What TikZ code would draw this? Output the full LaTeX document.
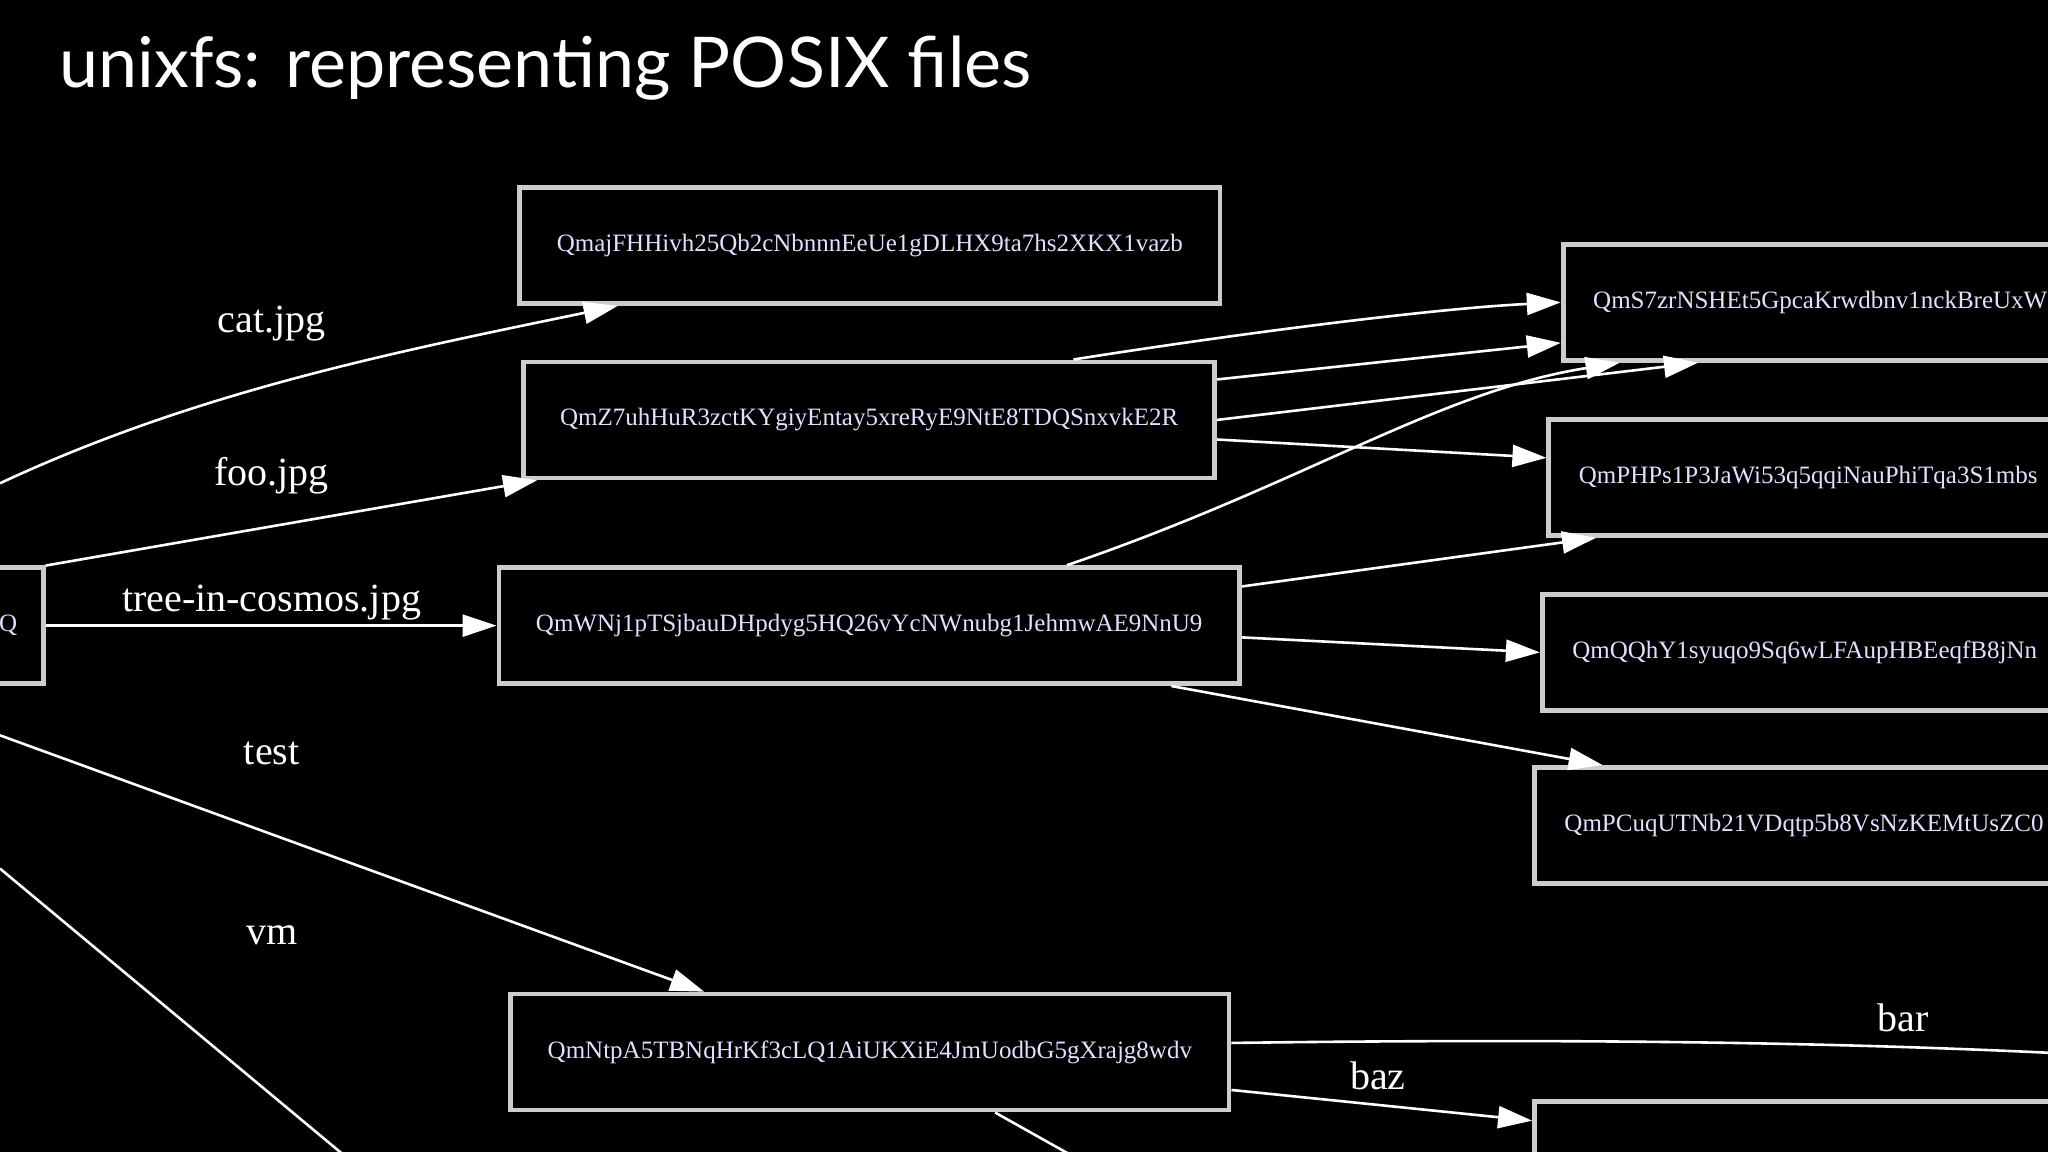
\documentclass[tikz,border=0pt]{standalone}
\usepackage{fontspec}
\setmainfont{Liberation Serif}
\newfontfamily\titlefont{Lato}
\usetikzlibrary{arrows.meta,positioning}
\tikzset{
hashbox/.style = {draw=white!80!black, line width=2.4pt, rectangle, text=white!88!blue,
  font=\fontsize{12.5}{14}\selectfont, minimum height=58pt, inner xsep=13pt},
sidebox/.style = {hashbox, anchor=west, minimum width=500pt, text width=470pt, align=left},
lbl/.style = {text=white, font=\fontsize{20}{22}\selectfont},
link/.style = {draw=white, line width=1.3pt, -{Triangle[width=11pt,length=17pt]}},
plain/.style = {draw=white, line width=1.3pt}
}
\begin{document}
\begin{tikzpicture}[x=0.6531pt, y=-0.6531pt]
  \fill[black] (0,0) rectangle (1568,882);
  \useasboundingbox (0,0) rectangle (1568,882);
  \clip (0,0) rectangle (1568,882);

  \node [text=white, font=\titlefont\fontsize{35}{40}\selectfont, anchor=west] (title) at (40,52) {unixfs: representing POSIX files};

  % middle column
  \node [hashbox, minimum width=536*0.6531pt] (cat)  at (666,188) {QmajFHHivh25Qb2cNbnnnEeUe1gDLHX9ta7hs2XKX1vazb};
  \node [hashbox, minimum width=529*0.6531pt] (foo)  at (665.5,321.5) {QmZ7uhHuR3zctKYgiyEntay5xreRyE9NtE8TDQSnxvkE2R};
  \node [hashbox, minimum width=567*0.6531pt] (tree) at (665.5,479) {QmWNj1pTSjbauDHpdyg5HQ26vYcNWnubg1JehmwAE9NnU9};
  \node [hashbox, minimum width=550*0.6531pt] (test) at (666,805.5) {QmNtpA5TBNqHrKf3cLQ1AiUKXiE4JmUodbG5gXrajg8wdv};
  \node [hashbox, anchor=east, minimum width=240*0.6531pt, text width=200*0.6531pt, align=right] (root) at (35,479) {rQ};

  % right column
  \node [sidebox] (blkA) at (1195,231.5) {QmS7zrNSHEt5GpcaKrwdbnv1nckBreUxW};
  \node [sidebox] (blkB) at (1184,365.5) {QmPHPs1P3JaWi53q5qqiNauPhiTqa3S1mbs};
  \node [sidebox] (blkC) at (1179,499.5) {QmQQhY1syuqo9Sq6wLFAupHBEeqfB8jNn};
  \node [sidebox] (blkD) at (1173,632) {QmPCuqUTNb21VDqtp5b8VsNzKEMtUsZC0};
  \node [sidebox] (blkE) at (1173,888) {};

  % free ends at the border
  \coordinate (catS) at (0,370);
  \coordinate (vmS)  at (0,665);
  \coordinate (vmE)  at (270,890);
  \coordinate (testS) at (0,563);
  \coordinate (barE) at (1568,806);
  \coordinate (dwn)  at (830,890);

  \draw [link] (catS) .. controls (150,300) and (300,270) .. ([xshift=-463*0.6531pt]cat.south east);
  \draw [link] ([yshift=46*0.6531pt]root.east) -- ([xshift=12*0.6531pt]foo.south west);
  \draw [link] (root.east) -- (tree.west);
  \draw [link] (testS) -- ([xshift=150*0.6531pt]test.north west);
  \draw [plain] (vmS) -- (vmE);

  \draw [link] ([xshift=-110*0.6531pt]foo.north east) .. controls (950,255) and (1100,236) .. (blkA.west);
  \draw [link] ([yshift=31*0.6531pt]foo.east) -- ([yshift=-31*0.6531pt]blkA.west);
  \draw [link] (foo.east) -- ([xshift=105*0.6531pt]blkA.south west);
  \draw [link] ([yshift=-15*0.6531pt]foo.east) -- ([yshift=15*0.6531pt]blkB.west);
  \draw [link] ([xshift=-134*0.6531pt]tree.north east) .. controls (1000,370) and (1100,300) .. ([xshift=45*0.6531pt]blkA.south west);
  \draw [link] ([yshift=30*0.6531pt]tree.east) -- ([xshift=38*0.6531pt]blkB.south west);
  \draw [link] ([yshift=-9*0.6531pt]tree.east) -- (blkC.west);
  \draw [link] ([xshift=-54*0.6531pt]tree.south east) -- ([xshift=54*0.6531pt]blkD.north west);

  \draw [plain] ([yshift=7*0.6531pt]test.east) .. controls (1200,795) and (1400,798) .. (barE);
  \draw [link] ([yshift=-29*0.6531pt]test.east) -- ([yshift=30*0.6531pt]blkE.west);
  \draw [plain] ([xshift=-181*0.6531pt]test.south east) -- (dwn);

  % edge labels
  \node [lbl] (lcat)  at (208,248) {cat.jpg};
  \node [lbl] (lfoo)  at (208,364) {foo.jpg};
  \node [lbl] (ltree) at (208,461) {tree-in-cosmos.jpg};
  \node [lbl] (ltest) at (208,577) {test};
  \node [lbl] (lvm)   at (208,716) {vm};
  \node [lbl] (lbar)  at (1457,779) {bar};
  \node [lbl] (lbaz)  at (1055,824) {baz};
\end{tikzpicture}
\end{document}
